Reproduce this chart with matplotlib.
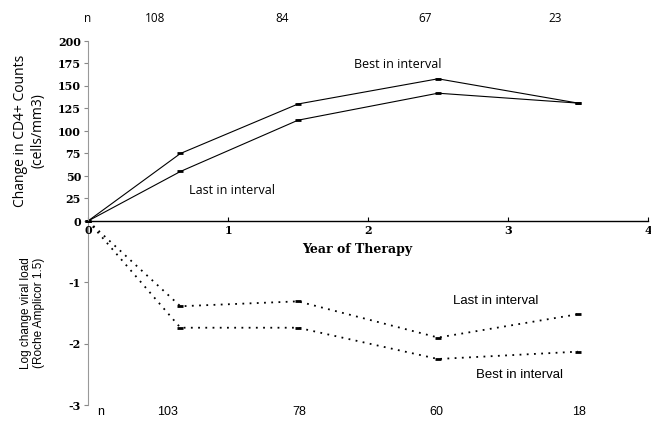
import numpy as np
import matplotlib
matplotlib.use('Agg')
from matplotlib import pyplot as plt

# Data
years = [0, 0.66, 1.5, 2.5, 3.5]
cd4_best = [0, 75, 130, 158, 131]
cd4_last = [0, 55, 112, 142, 131]
vl_last = [0, -1.39, -1.31, -1.90, -1.52]
vl_best = [0, -1.74, -1.74, -2.25, -2.13]

n_top_pos = [0.48, 1.39, 2.41, 3.34]
n_top = ['108', '84', '67', '23']
n_bot_pos = [0.57, 1.51, 2.49, 3.51]
n_bot = ['103', '78', '60', '18']

cd4_ticks = np.arange(0, 201, 25)
vl_ticks = [-1, -2, -3]
x_ticks = [0, 1, 2, 3, 4]

W, H = 651, 423
fig = plt.figure(figsize=(W / 100, H / 100), dpi=100)

x0, x1 = 88, 648
ax2 = fig.add_axes([x0 / W, (H - 405) / H, (x1 - x0) / W, 184 / H])
ax1 = fig.add_axes([x0 / W, (H - 221) / H, (x1 - x0) / W, 180 / H])
ax1.set_zorder(3)
ax1.patch.set_visible(False)
ax2.patch.set_visible(False)

tick_font = dict(family='DejaVu Serif', weight='bold', size=8)
label_font = 'Open Sans'

# Top panel: CD4 change
ax1.plot(years, cd4_best, c='k', lw=0.8, marker='_', ms=5, mew=2, clip_on=False)
ax1.plot(years, cd4_last, c='k', lw=0.8, marker='_', ms=5, mew=2, clip_on=False)
ax1.set_xlim(0, 4)
ax1.set_ylim(0, 200)
ax1.set_yticks(cd4_ticks)
ax1.set_yticklabels([str(v) for v in cd4_ticks], **tick_font)
ax1.set_xticks(x_ticks)
ax1.set_xticklabels([str(v) for v in x_ticks], **tick_font)
ax1.tick_params(axis='x', direction='in', length=3, pad=3)
ax1.tick_params(axis='y', direction='out', length=3, pad=2, color='#888888')
for s in ['top', 'right']:
    ax1.spines[s].set_visible(False)
ax1.spines['left'].set_color('#999999')
ax1.spines['bottom'].set_linewidth(1.0)
ax1.set_ylabel('Change in CD4+ Counts\n(cells/mm3)', family=label_font, size=10)
ax1.yaxis.set_label_coords(-0.076, 0.5)
ax1.text(2.21, 174, 'Best in interval', family=label_font, size=9, ha='center', va='center')
ax1.text(1.03, 34, 'Last in interval', family=label_font, size=9, ha='center', va='center')
ax1.text(1.92, -32, 'Year of Therapy', family='DejaVu Serif', weight='bold', size=9,
         ha='center', va='center', clip_on=False)

# n row on top
ax1.text(0, 225, 'n', family=label_font, size=8.5, ha='center', va='center', clip_on=False)
for p, s in zip(n_top_pos, n_top):
    ax1.text(p, 225, s, family=label_font, size=8.5, ha='center', va='center', clip_on=False)

# Bottom panel: viral load
ax2.plot(years, vl_last, c='k', lw=1.3, ls=(0, (1, 3)), marker='_', ms=5, mew=2)
ax2.plot(years, vl_best, c='k', lw=1.3, ls=(0, (1, 3)), marker='_', ms=5, mew=2)
ax2.set_xlim(0, 4)
ax2.set_ylim(-3, 0)
ax2.set_yticks(vl_ticks)
ax2.set_yticklabels([str(v) for v in vl_ticks], **tick_font)
ax2.set_xticks([])
ax2.tick_params(axis='y', direction='out', length=3, pad=2, color='#888888')
for s in ['top', 'right', 'bottom']:
    ax2.spines[s].set_visible(False)
ax2.spines['left'].set_color('#999999')
ax2.set_ylabel('Log change viral load\n(Roche Amplicor 1.5)', family='Liberation Sans', size=8.5)
ax2.yaxis.set_label_coords(-0.076, 0.5)
ax2.text(2.91, -1.31, 'Last in interval', family='Liberation Sans', size=9.5, ha='center', va='center')
ax2.text(3.08, -2.51, 'Best in interval', family='Liberation Sans', size=9.5, ha='center', va='center')

# n row at bottom
ax2.text(0.09, -3.11, 'n', family='Liberation Sans', size=9, ha='center', va='center', clip_on=False)
for p, s in zip(n_bot_pos, n_bot):
    ax2.text(p, -3.11, s, family='Liberation Sans', size=9, ha='center', va='center', clip_on=False)

fig.savefig('out.png', dpi=100)
